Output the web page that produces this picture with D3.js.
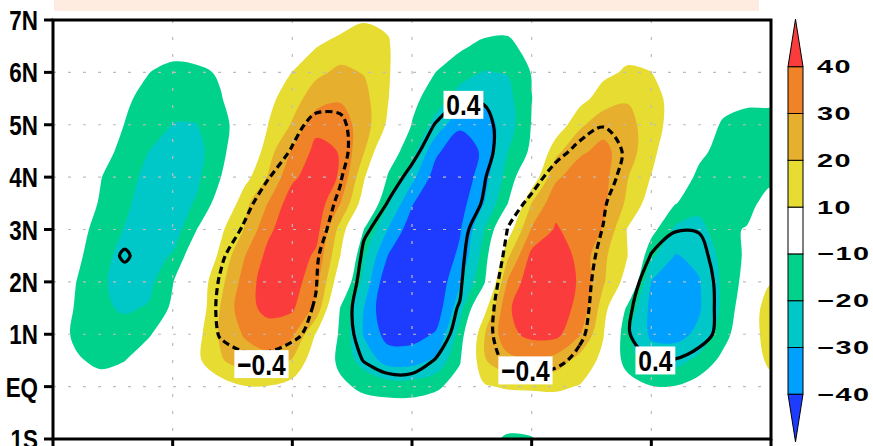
<!DOCTYPE html>
<html>
<head>
<meta charset="utf-8">
<script src="https://d3js.org/d3.v7.min.js"></script>
<style>
	body { margin: 0; background: #fff; }
	svg { display: block; }
	text { font-family: 'Liberation Sans', Arial, sans-serif; font-weight: bold; fill: #000; }
</style>
</head>
<body>
<div id="chart"></div>
<script>
// grid axes (rows go from north to south)
var lats = [7, 6.5, 6, 5.5, 5, 4.5, 4, 3.5, 3, 2.5, 2, 1.5, 1, 0.5, 0, -0.5, -1];
var xs = [0, 1, 2, 3, 4, 5, 6, 7, 8, 9, 10, 11, 12, 13, 14, 15, 16, 17, 18, 19, 20, 21, 22, 23, 24, 25, 26, 27, 28, 29, 30];
var x_ticks = [0, 5, 10, 15, 20, 25, 30];
var lat_ticks = [7, 6, 5, 4, 3, 2, 1, 0, -1];
var lat_labels = ['7N', '6N', '5N', '4N', '3N', '2N', '1N', 'EQ', '1S'];

// shading levels and colours (one more colour than levels)
var levels = [-40, -30, -20, -10, 10, 20, 30, 40];
var colors = ['#1e3cff', '#00a0ff', '#00c8c8', '#00d28c', '#ffffff', '#e6dc32', '#e6af2d', '#f08228', '#fa3c3c'];

// shaded field, one row per latitude
var shade = [
	[0, 0, 0, 0, 0, 0, 0, 0, 0, 0, 0, 0, 4, 9, 8.5, 2, 0, 0, -3, -6, -4, 0, 0, 0, 0, 0, 0, 0, 0, 0, 0],
	[0, 0, 0, 0, -2, -5, -4, -1, 0, 0, 0, 9.5, 15, 17.5, 11, 0, 0, -8, -13, -12.5, -6, 0, 0, 4, 6, 3, 0, 0, 0, 0, 0],
	[0, 0, 0, -3, -9.8, -13.5, -12.5, -8.75, -2, 2, 10.3, 18, 22, 19.5, 11, 0, -10.2, -17, -20.5, -19.5, -9.5, -1, 1, 7.5, 11.5, 10.2, 2, 0, -2, -3, -3],
	[0, 0, -3, -8.5, -12.8, -17, -15, -10.7, -3, 7, 16, 25, 29, 23, 10.5, -7, -15.5, -23.5, -28, -23, -10.2, -2, 6, 15, 19, 15, 5, -3, -7, -8, -8],
	[0, -1, -5, -10.2, -15, -20.3, -20.3, -13, -5, 10.2, 21, 37, 35, 25, 8, -10.5, -23.5, -38, -35, -25, -9.5, 2, 18, 26, 24, 14, 6, -5, -11, -13.5, -14],
	[0, -2, -6, -13, -20, -25, -24, -12, -4, 16, 31, 43, 39.5, 20.5, -4, -16, -38, -47, -38, -20.3, -8, 17, 28, 33, 24, 14.4, -3, -8, -13, -15, -15],
	[0, -3, -9.7, -16, -23, -26, -22, -10.3, 6, 21, 38, 46, 39, 11, -11, -27, -45, -48, -34, -16, 2, 28, 36, 33, 20.5, 9.5, -4, -12, -15, -15, -12.5],
	[0, -4, -11, -18, -25, -25, -19, -4.5, 17, 30.5, 46, 46, 30.3, 4, -19, -39, -52, -44, -30.3, -10.2, 20.3, 37, 38, 32, 18, 5, -9.5, -16, -15, -13, -6],
	[-1, -6, -14, -20.5, -27, -26, -10.2, 8, 20.5, 38, 47, 44, 16, -10.3, -30.3, -46, -52, -41, -20.3, 4, 31, 41, 36, 29.5, 9.5, -6, -22, -24, -12, -9.4, -3],
	[-2, -8, -16, -24, -25, -19, -1, 12, 29.5, 43, 47, 38, 10.2, -19, -40.3, -51, -48, -38, -16, 18, 43, 47, 37, 22, 10.3, -18, -30.5, -28, -17, -8, 2],
	[-3, -10.2, -18, -25, -23, -10.5, 3.3, 17, 34, 46, 45, 33, 2, -24, -48, -50, -48, -31, -12, 31, 47, 46, 39, 21, 5.5, -30.3, -35, -30.5, -18, -6, 9],
	[-4, -11, -18, -21.5, -19, -8, 2.5, 20.5, 37, 42.5, 41.5, 27, -10.3, -30.3, -50, -48, -46, -24, 5, 39, 45, 44, 38, 15, -12, -33, -36, -31, -18, -2, 19.5],
	[-5, -12, -16.5, -15, -11, -3, 6.2, 21.5, 31, 36, 32, 9, -12, -31, -44, -44, -39, -16, 19, 37, 43, 43, 31, 10.5, -18, -32, -33, -28, -14, -1, 19.5],
	[-4, -9, -12, -10.2, -4, 0, 7.6, 19, 25, 26.5, 19, 3, -13.4, -24, -34, -34, -28, -11, 19, 27, 29, 26, 16, 7.5, -16, -24, -24, -17, -7, 2, 13],
	[0, -3, -6, -4, -1, 0, 2, 5, 9.5, 9.5, 6, 0, -7, -13, -15, -15, -12, -5, 8.5, 11.5, 12, 11.5, 9.5, 2, -3, -9.5, -9.5, -5, -1, 1, 5],
	[0, 0, 0, 0, 0, 0, 0, 0, 0, 0, 0, 0, 0, -2, -3, -3, -1, 0, 1, -2, -1, 4, 1, 0, 0, 0, 0, 0, 0, 0, 0],
	[0, 0, 0, 0, 0, 0, 0, 0, 0, 0, 0, 0, 0, 0, 0, 0, 0, 0, -6, -12, -11, -4, 0, 0, 0, 0, 0, 0, 0, 0, 0]
];

// contoured field (lines at +0.4 solid, -0.4 dashed)
var corr = [
	[0, 0, 0, 0, 0, 0, 0, 0, 0, 0, 0, 0, 0, 0, 0, 0, 0, 0, 0, 0, 0, 0, 0, 0, 0, 0, 0, 0, 0, 0, 0],
	[0, 0, 0, 0, 0, 0, 0, 0, 0, 0, 0, 0, 0, 0, 0, 0, 0, 0, 0, 0, 0, 0, 0, 0, 0, 0, 0, 0, 0, 0, 0],
	[0, 0, 0, 0, 0, 0, 0, 0, 0, 0, 0, -0.1, -0.15, -0.1, 0, 0, 0.1, 0.2, 0.2, 0.1, 0, 0, 0, 0, 0, 0, 0, 0, 0, 0, 0],
	[0, 0, 0, 0, 0, 0, 0, 0, 0, 0, 0, -0.3, -0.3, -0.25, 0, 0.1, 0.3, 0.38, 0.37, 0.3, 0, 0, -0.2, -0.3, -0.3, -0.1, 0, 0, 0, 0, 0],
	[0, 0, 0, 0, 0, 0, 0, 0, 0, 0, -0.32, -0.48, -0.47, -0.2, 0, 0.28, 0.41, 0.52, 0.5, 0.25, 0, -0.1, -0.3, -0.39, -0.38, -0.25, 0, 0, 0, 0, 0],
	[0, 0, 0, 0, 0, 0, 0, 0, 0, -0.25, -0.42, -0.55, -0.5, -0.2, 0.1, 0.34, 0.52, 0.58, 0.5, 0.25, 0, -0.32, -0.46, -0.5, -0.37, -0.15, 0, 0, 0, 0, 0],
	[0, 0, 0, 0, 0, 0, 0, 0, -0.2, -0.39, -0.55, -0.6, -0.42, -0.15, 0.3, 0.46, 0.58, 0.6, 0.42, 0.2, -0.3, -0.5, -0.57, -0.52, -0.3, -0.1, 0, 0, 0, 0, 0],
	[0, 0, 0.1, 0.25, 0.2, 0.1, 0, -0.15, -0.33, -0.52, -0.6, -0.52, -0.36, 0.22, 0.41, 0.56, 0.62, 0.55, 0.38, -0.28, -0.46, -0.58, -0.6, -0.43, -0.2, 0.1, 0.3, 0.3, 0.15, 0, 0],
	[0, 0.15, 0.3, 0.37, 0.33, 0.2, 0, -0.25, -0.43, -0.58, -0.6, -0.48, -0.3, 0.36, 0.52, 0.6, 0.62, 0.55, 0.15, -0.41, -0.55, -0.6, -0.55, -0.39, 0, 0.3, 0.39, 0.39, 0.3, 0.1, 0],
	[0, 0.2, 0.365, 0.41, 0.365, 0.25, -0.15, -0.37, -0.52, -0.6, -0.58, -0.45, 0, 0.46, 0.58, 0.62, 0.6, 0.5, 0, -0.5, -0.6, -0.62, -0.5, -0.35, 0.2, 0.41, 0.5, 0.46, 0.3, 0.1, 0],
	[0, 0.15, 0.32, 0.37, 0.3, 0.15, -0.22, -0.42, -0.55, -0.6, -0.55, -0.41, 0.05, 0.55, 0.6, 0.62, 0.58, 0.45, -0.1, -0.6, -0.62, -0.62, -0.46, -0.34, 0.3, 0.5, 0.56, 0.52, 0.32, 0.2, 0],
	[0, 0.1, 0.25, 0.3, 0.25, 0.1, -0.24, -0.44, -0.55, -0.57, -0.5, -0.38, 0.2, 0.6, 0.6, 0.6, 0.55, 0.38, -0.25, -0.6, -0.6, -0.6, -0.44, -0.34, 0.36, 0.55, 0.58, 0.52, 0.33, 0.2, 0],
	[0, 0, 0.1, 0.2, 0.1, 0, -0.22, -0.42, -0.5, -0.5, -0.44, -0.34, 0.2, 0.55, 0.57, 0.58, 0.5, 0.33, -0.3, -0.56, -0.56, -0.55, -0.43, -0.3, 0.38, 0.55, 0.56, 0.5, 0.32, 0.15, 0],
	[0, 0, 0, 0, 0, 0, 0, -0.3, -0.35, -0.35, -0.3, 0, 0.25, 0.41, 0.48, 0.48, 0.39, 0.25, -0.3, -0.44, -0.48, -0.44, -0.36, 0, 0.25, 0.39, 0.39, 0.3, 0.1, 0, 0],
	[0, 0, 0, 0, 0, 0, 0, -0.2, -0.2, -0.2, -0.2, 0, 0, 0.25, 0.32, 0.32, 0.25, 0, 0, -0.3, -0.32, -0.3, 0, 0, 0, 0.2, 0.2, 0.2, 0, 0, 0],
	[0, 0, 0, 0, 0, 0, 0, 0, 0, 0, 0, 0, 0, 0, 0, 0, 0, 0, 0, 0, 0, 0, 0, 0, 0, 0, 0, 0, 0, 0, 0],
	[0, 0, 0, 0, 0, 0, 0, 0, 0, 0, 0, 0, 0, 0, 0, 0, 0, 0, 0, 0, 0, 0, 0, 0, 0, 0, 0, 0, 0, 0, 0]
];
var corr_level = 0.4;

// contour labels
var label_x = [17.15, 8.71, 19.74, 25.17];
var label_lat = [5.38, 0.43, 0.31, 0.5];
var label_text = ['0.4', '\u22120.4', '\u22120.4', '0.4'];

var svg = d3.select('#chart')
	.append('svg')
		.attr('width', 873)
		.attr('height', 446);

var x = d3.scaleLinear()
	.domain([xs[0], xs[xs.length - 1]])
	.range([53, 771]);
var y = d3.scaleLinear()
	.domain([-1, 7])
	.range([439, 20]);

// peach title strip (cut off at the top)
svg.append('rect')
	.attr('x', 54).attr('y', 0)
	.attr('width', 705).attr('height', 11)
	.style('fill', '#fdecdf');

var nx = xs.length, ny = lats.length;
// d3.contours puts grid value i at coordinate i + 0.5
var gx = d3.scaleLinear().domain([0.5, nx - 0.5]).range([xs[0], xs[nx - 1]]);
var gy = d3.scaleLinear().domain([0.5, ny - 0.5]).range([lats[0], lats[ny - 1]]);

// smooth each contour ring a little
var ring_line = d3.line()
	.x(function(p) { return x(gx(p[0])); })
	.y(function(p) { return y(gy(p[1])); })
	.curve(d3.curveCatmullRomClosed.alpha(0.5));
var smooth_path = function(d) {
	var s = '';
	d.coordinates.forEach(function(poly) {
		poly.forEach(function(ring) {
			s += ring_line(ring.slice(0, -1));
		});
	});
	return s;
};

svg.append('clipPath')
	.attr('id', 'plot_clip')
	.append('rect')
		.attr('x', x(xs[0])).attr('y', y(7))
		.attr('width', x(xs[nx - 1]) - x(xs[0]))
		.attr('height', y(-1) - y(7));

var plot = svg.append('g').attr('clip-path', 'url(#plot_clip)');

// shading
plot.append('rect')
	.attr('x', x(xs[0])).attr('y', y(7))
	.attr('width', x(xs[nx - 1]) - x(xs[0]))
	.attr('height', y(-1) - y(7))
	.style('fill', colors[0]);

var bands = d3.contours().size([nx, ny]).thresholds(levels)(shade.flat());
plot.selectAll('path.band')
	.data(bands)
	.enter()
	.append('path')
		.attr('class', 'band')
		.attr('d', smooth_path)
		.style('fill-rule', 'evenodd')
		.style('fill', function(d, i) { return colors[i + 1]; });

// dotted grid
plot.selectAll('line.hgrid')
	.data(lat_ticks.slice(1, -1))
	.enter()
	.append('line')
		.attr('x1', x(xs[0])).attr('x2', x(xs[nx - 1]))
		.attr('y1', function(d) { return y(d); })
		.attr('y2', function(d) { return y(d); })
		.style('stroke', '#bdbdbd')
		.style('stroke-width', 1.2)
		.style('stroke-dasharray', '3,12');
plot.selectAll('line.vgrid')
	.data(x_ticks.slice(1, -1))
	.enter()
	.append('line')
		.attr('y1', y(7)).attr('y2', y(-1))
		.attr('x1', function(d) { return x(d); })
		.attr('x2', function(d) { return x(d); })
		.style('stroke', '#bdbdbd')
		.style('stroke-width', 1.2)
		.style('stroke-dasharray', '3,14');

// contour lines
var corr_flat = corr.flat();
var pos_line = d3.contours().size([nx, ny]).thresholds([corr_level])(corr_flat);
var neg_line = d3.contours().size([nx, ny]).thresholds([corr_level])(corr_flat.map(function(v) { return -v; }));

plot.selectAll('path.pos')
	.data(pos_line)
	.enter()
	.append('path')
		.attr('d', smooth_path)
		.style('fill', 'none')
		.style('stroke', '#000')
		.style('stroke-width', 3.2)
		.style('stroke-linejoin', 'round');
plot.selectAll('path.neg')
	.data(neg_line)
	.enter()
	.append('path')
		.attr('d', smooth_path)
		.style('fill', 'none')
		.style('stroke', '#000')
		.style('stroke-width', 3.2)
		.style('stroke-dasharray', '7,4');

// contour labels in white boxes
var label_sx = 0.82;
label_text.forEach(function(t, i) {
	var g = plot.append('g')
		.attr('transform', 'translate(' + x(label_x[i]) + ',' + y(label_lat[i]) + ')');
	var box = g.append('rect');
	var txt = g.append('text')
		.attr('text-anchor', 'middle')
		.attr('transform', 'translate(0,10.5) scale(' + label_sx + ',1)')
		.style('font-size', '30px')
		.text(t);
	var w = txt.node().getBBox().width * label_sx + 5;
	box.attr('x', -w / 2).attr('y', -14)
		.attr('width', w).attr('height', 28)
		.style('fill', '#fff');
});

// frame
svg.append('rect')
	.attr('x', x(xs[0])).attr('y', y(7))
	.attr('width', x(xs[nx - 1]) - x(xs[0]))
	.attr('height', y(-1) - y(7))
	.style('fill', 'none')
	.style('stroke', '#000')
	.style('stroke-width', 3);

// y ticks and labels
svg.selectAll('line.ytick')
	.data(lat_ticks)
	.enter()
	.append('line')
		.attr('x1', 44).attr('x2', x(xs[0]))
		.attr('y1', function(d) { return y(d); })
		.attr('y2', function(d) { return y(d); })
		.style('stroke', '#000')
		.style('stroke-width', 3);
svg.selectAll('text.ylab')
	.data(lat_ticks)
	.enter()
	.append('text')
		.attr('text-anchor', 'end')
		.attr('transform', function(d) { return 'translate(38,' + (y(d) + 10) + ') scale(0.8,1)'; })
		.style('font-size', '28px')
		.text(function(d, i) { return lat_labels[i]; });

// x ticks (labels fall below the picture)
svg.selectAll('line.xtick')
	.data(x_ticks)
	.enter()
	.append('line')
		.attr('x1', function(d) { return x(d); })
		.attr('x2', function(d) { return x(d); })
		.attr('y1', y(-1)).attr('y2', y(-1) + 12)
		.style('stroke', '#000')
		.style('stroke-width', 3);

// colour bar
var cb_x = 788, cb_w = 15;
var cb = d3.scaleLinear()
	.domain([0, levels.length - 1])
	.range([394.3, 66.7]);
var tri = 47.5;

svg.selectAll('rect.cbox')
	.data(levels.slice(0, -1))
	.enter()
	.append('rect')
		.attr('x', cb_x)
		.attr('y', function(d, i) { return cb(i + 1); })
		.attr('width', cb_w)
		.attr('height', function(d, i) { return cb(i) - cb(i + 1); })
		.style('fill', function(d, i) { return colors[i + 1]; })
		.style('stroke', '#000')
		.style('stroke-width', 1);

svg.append('path')
	.attr('d', 'M' + cb_x + ',' + cb(0) + 'L' + (cb_x + cb_w) + ',' + cb(0) + 'L' + (cb_x + cb_w / 2) + ',' + (cb(0) + tri) + 'Z')
	.style('fill', colors[0])
	.style('stroke', '#000')
	.style('stroke-width', 1);
svg.append('path')
	.attr('d', 'M' + cb_x + ',' + cb(levels.length - 1) + 'L' + (cb_x + cb_w) + ',' + cb(levels.length - 1) + 'L' + (cb_x + cb_w / 2) + ',' + (cb(levels.length - 1) - tri) + 'Z')
	.style('fill', colors[colors.length - 1])
	.style('stroke', '#000')
	.style('stroke-width', 1);

svg.selectAll('text.clab')
	.data(levels)
	.enter()
	.append('text')
		.attr('transform', function(d, i) { return 'translate(817,' + (cb(i) + 6.5) + ') scale(1.6,1)'; })
		.style('font-size', '18px')
		.style('letter-spacing', '1px')
		.text(function(d) { return d < 0 ? '\u2212' + Math.abs(d) : d; });
</script>
</body>
</html>
